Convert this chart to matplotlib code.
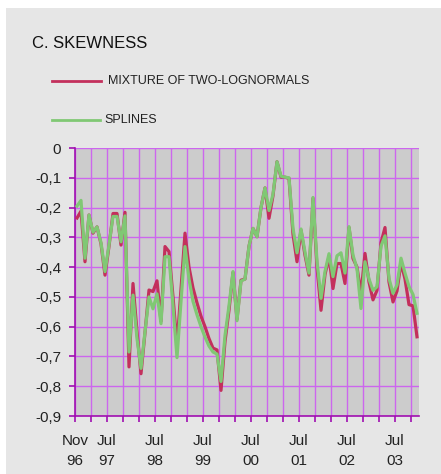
import matplotlib
matplotlib.use("Agg")
import matplotlib.pyplot as plt
from matplotlib.patches import Rectangle
import numpy as np

# monthly observations, Nov 1996 .. Dec 2003
mixture = [-0.235, -0.212, -0.382, -0.225, -0.286, -0.265, -0.322, -0.427, -0.330, -0.220,
           -0.220, -0.326, -0.216, -0.735, -0.455, -0.617, -0.758, -0.620, -0.477, -0.482,
           -0.446, -0.582, -0.331, -0.348, -0.500, -0.662, -0.474, -0.286, -0.400, -0.470,
           -0.520, -0.565, -0.600, -0.640, -0.672, -0.678, -0.814, -0.650, -0.545, -0.418,
           -0.575, -0.444, -0.440, -0.330, -0.270, -0.298, -0.200, -0.134, -0.236, -0.160,
           -0.046, -0.098, -0.098, -0.102, -0.290, -0.382, -0.276, -0.360, -0.427, -0.169,
           -0.400, -0.545, -0.425, -0.365, -0.472, -0.388, -0.388, -0.455, -0.267, -0.371,
           -0.400, -0.490, -0.354, -0.450, -0.510, -0.478, -0.318, -0.267, -0.450, -0.517,
           -0.480, -0.385, -0.440, -0.526, -0.530, -0.634]
splines = [-0.195, -0.176, -0.370, -0.225, -0.283, -0.265, -0.318, -0.415, -0.325, -0.230,
           -0.230, -0.315, -0.228, -0.685, -0.494, -0.640, -0.740, -0.617, -0.500, -0.540,
           -0.490, -0.590, -0.365, -0.365, -0.530, -0.704, -0.515, -0.331, -0.440, -0.515,
           -0.560, -0.600, -0.635, -0.665, -0.685, -0.692, -0.784, -0.630, -0.530, -0.415,
           -0.580, -0.447, -0.440, -0.330, -0.270, -0.298, -0.200, -0.134, -0.210, -0.155,
           -0.046, -0.095, -0.098, -0.100, -0.270, -0.352, -0.272, -0.350, -0.420, -0.166,
           -0.380, -0.505, -0.415, -0.355, -0.432, -0.362, -0.352, -0.420, -0.264, -0.360,
           -0.405, -0.539, -0.382, -0.440, -0.478, -0.466, -0.330, -0.295, -0.438, -0.488,
           -0.460, -0.370, -0.420, -0.465, -0.492, -0.555]

tick_months = list(range(0, 86, 4))
tick_text = {0: "Nov\n96", 8: "Jul\n97", 20: "Jul\n98", 32: "Jul\n99",
             44: "Jul\n00", 56: "Jul\n01", 68: "Jul\n02", 80: "Jul\n03"}
y_ticks = [0, -0.1, -0.2, -0.3, -0.4, -0.5, -0.6, -0.7, -0.8, -0.9]

plt.rcParams['font.family'] = ['Liberation Sans', 'DejaVu Sans']

fig = plt.figure(figsize=(4.41, 4.74), dpi=100)
fig.patch.set_facecolor('white')
fig.patches.append(Rectangle((6 / 441, 0), 1, 1 - 8 / 474, transform=fig.transFigure,
                             facecolor='#e6e6e6', edgecolor='none', zorder=-10))

ax = fig.add_axes([75 / 441, 58 / 474, 344 / 441, 268 / 474])
ax.set_facecolor('#cccccc')

x = np.arange(len(mixture)) + 0.5
ax.plot(x, mixture, color='#c3305c', lw=2.3, zorder=3)
ax.plot(x, splines, color='#80c874', lw=2.3, zorder=4)

ax.set_xlim(0, 86)
ax.set_ylim(-0.9, 0)
ax.set_xticks(tick_months)
ax.set_xticklabels([tick_text.get(m, "") for m in tick_months], linespacing=1.55)
ax.set_yticks(y_ticks)
ax.set_yticklabels([f"{v:.1f}".replace(".", ",") if v != 0 else "0" for v in y_ticks])

ax.grid(True, color='#cc66ee', lw=1.0)
ax.set_axisbelow(True)
for side in ['top', 'right']:
    ax.spines[side].set_visible(False)
for side in ['left', 'bottom']:
    ax.spines[side].set_color('#a010b0')
    ax.spines[side].set_linewidth(1.2)
ax.tick_params(axis='both', colors='#a010b0', length=4, width=1.2, labelsize=11,
               labelcolor='#222222')
ax.tick_params(axis='x', pad=9)
ax.tick_params(axis='y', pad=6)

fig.text(32 / 441, 1 - 44 / 474, "C. SKEWNESS", fontsize=12, va='center', ha='left',
         color='#111111')

# legend drawn by hand, as in the source
fig.add_artist(plt.Line2D([52 / 441, 101 / 441], [1 - 81 / 474] * 2, color='#c3305c', lw=2))
fig.text(108 / 441, 1 - 81 / 474, "MIXTURE OF TWO-LOGNORMALS", fontsize=9, va='center',
         ha='left', color='#222222')
fig.add_artist(plt.Line2D([52 / 441, 100 / 441], [1 - 120 / 474] * 2, color='#80c874', lw=2))
fig.text(104 / 441, 1 - 120 / 474, "SPLINES", fontsize=9, va='center', ha='left',
         color='#222222')

fig.savefig("out.png", dpi=100)
